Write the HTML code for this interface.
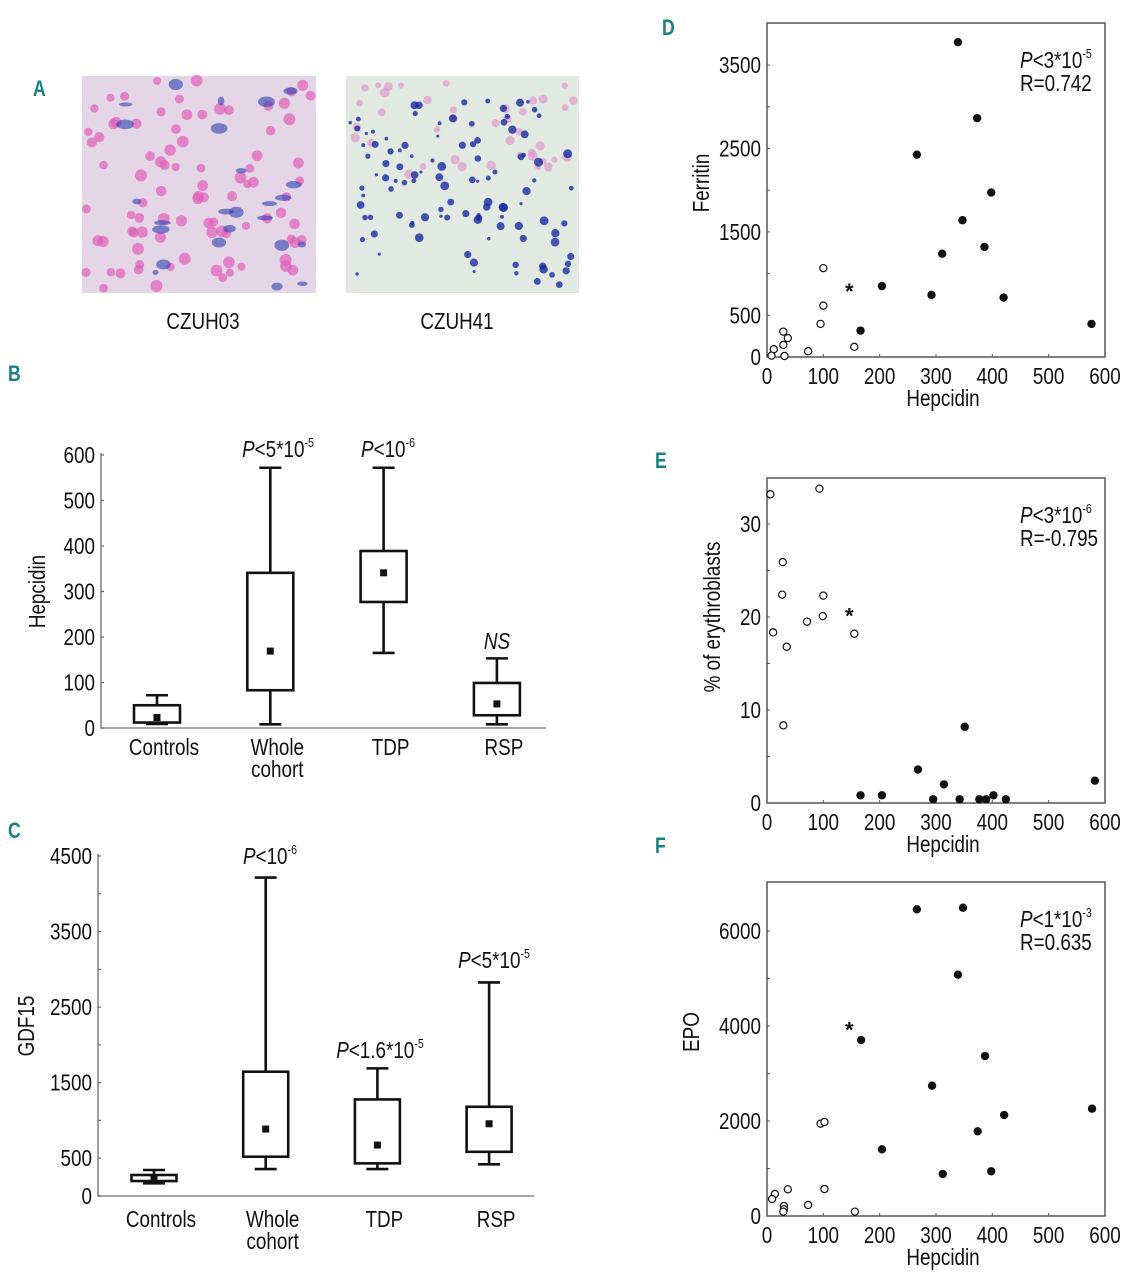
<!DOCTYPE html>
<html><head><meta charset="utf-8"><style>
body{margin:0;background:#fff;}
svg{display:block;font-family:"Liberation Sans Narrow","Liberation Sans",sans-serif;}
.t{font-size:23px;fill:#111;}
.pl{font-family:"Liberation Sans",sans-serif;font-weight:bold;font-size:22px;fill:#1a8080;}
</style></head><body>
<svg id="fig" width="1127" height="1280" viewBox="0 0 1127 1280" xmlns="http://www.w3.org/2000/svg">
<g id="imgs">
  <rect x="82" y="76" width="234" height="217" fill="#e4d6e6"/>
  <rect x="346" y="76" width="233" height="217" fill="#e2e9e2"/>
  <g id="tex"></g>
</g>
<text class="t" x="203" y="329" text-anchor="middle">CZUH03</text>
<text class="t" x="457" y="329" text-anchor="middle">CZUH41</text>
<text class="pl" x="33" y="96" transform="translate(33,0) scale(0.8,1) translate(-33,0)">A</text>
<text class="pl" x="8" y="381" transform="translate(8,0) scale(0.8,1) translate(-8,0)">B</text>
<text class="pl" x="8" y="838" transform="translate(8,0) scale(0.8,1) translate(-8,0)">C</text>
<text class="pl" x="662" y="35" transform="translate(662,0) scale(0.8,1) translate(-662,0)">D</text>
<text class="pl" x="655" y="468" transform="translate(655,0) scale(0.8,1) translate(-655,0)">E</text>
<text class="pl" x="655" y="853" transform="translate(655,0) scale(0.8,1) translate(-655,0)">F</text>
<g id="charts"></g>
</svg>
<script>
// ---- Panel B (Hepcidin box plot) data ----
const bCats = ["Controls","Whole cohort","TDP","RSP"];
const bWhiskLo = [9, 8, 165, 8];
const bBoxLo = [12, 83, 277, 28];
const bMean = [23, 169, 341, 53];
const bBoxHi = [50, 341, 389, 99];
const bWhiskHi = [72, 572, 572, 153];
const bTicks = [0,100,200,300,400,500,600];
// ---- Panel C (GDF15 box plot) data ----
const cCats = ["Controls","Whole cohort","TDP","RSP"];
const cWhiskLo = [168, 357, 357, 419];
const cBoxLo = [198, 520, 432, 585];
const cMean = [220, 886, 674, 956];
const cBoxHi = [278, 1645, 1278, 1181];
const cWhiskHi = [344, 4214, 1689, 2827];
const cTickLabels = [0,500,1500,2500,3500,4500];
const cTicks = [0,500,1000,1500,2000,2500,3000,3500,4000,4500];
// ---- Panel D (Ferritin vs Hepcidin) ----
const dFillX = [339,373,266,398,347,311,386,204,292,420,166,576];
const dFillY = [3775,2864,2426,1972,1640,1239,1320,850,745,713,316,397];
const dOpenX = [100,100,95,29,37,29,12,8,31,73,155];
const dOpenY = [1065,616,397,304,227,146,93,16,12,69,122];
const dStarX = [146]; const dStarY = [850];
// ---- Panel E (% erythroblasts vs Hepcidin) ----
const eFillX = [351,268,314,166,204,295,342,377,389,402,424,582];
const eFillY = [8.2,3.6,2.0,0.83,0.83,0.4,0.4,0.4,0.4,0.83,0.4,2.4];
const eOpenX = [6,93,28,27,100,99,71,11,155,35,29];
const eOpenY = [33.2,33.8,25.9,22.4,22.3,20.1,19.5,18.35,18.2,16.8,8.35];
const eStarX = [146]; const eStarY = [20.7];
// ---- Panel F (EPO vs Hepcidin) ----
const fFillX = [266,348,339,167,387,293,577,421,374,204,312,398];
const fFillY = [6457,6490,5080,3705,3368,2743,2259,2126,1783,1404,884,941];
const fOpenX = [95,102,37,102,14,9,73,30,30,29,156];
const fOpenY = [1944,1979,562,568,463,358,232,210,141,91,91];
const fStarX = [146]; const fStarY = [4035];
const xTicks = [0,100,200,300,400,500,600];

const NS="http://www.w3.org/2000/svg";
const root=document.getElementById('charts');
function mk(tag,attrs,parent,txt){const e=document.createElementNS(NS,tag);for(const k in attrs)e.setAttribute(k,attrs[k]);if(txt!==undefined)e.textContent=txt;(parent||root).appendChild(e);return e;}
function ptext(parent,x,y,anchor,base,exp,name){
  const t=mk('text',{class:'t',x:x,y:y,'text-anchor':anchor},parent);
  
  
  mk('tspan',{'font-style':'italic'},t,'P');
  mk('tspan',{},t,base);
  if(exp){mk('tspan',{'font-size':'13','dy':'-10'},t,exp);}
  return t;
}

// ---------- Box plot ----------
function boxplot(cfg){
  const g=mk('g',{});
  
  
  const y=v=>cfg.y0-(v-0)*(cfg.y0-cfg.yTop)/cfg.yMax;
  const xs=i=>cfg.xc[0]+i*cfg.step;
  const ax=mk('path',{d:`M${cfg.ax},${cfg.yTop-2}V${cfg.y0}H${cfg.axEnd}`,stroke:'#888',fill:'none','stroke-width':1.6},g);
  
  
  cfg.ticks.forEach(v=>{const l=mk('line',{x1:cfg.ax,x2:cfg.ax+3,y1:y(v),y2:y(v),stroke:'#666','stroke-width':1.2},g);
    
    });
  cfg.tickLabels.forEach(v=>{const t=mk('text',{class:'t',x:cfg.ax-6,y:y(v)+8,'text-anchor':'end'},g,String(v));
    
    });
  const yl=mk('text',{class:'t',transform:`translate(${cfg.ylx},${(cfg.y0+cfg.yTop)/2}) rotate(-90)`,'text-anchor':'middle'},g,cfg.ylabel);
  
  
  cfg.cats.forEach((c,i)=>{
    const x=xs(i),w=cfg.bw/2,cw=11;
    const bg=mk('g',{fill:'none',stroke:'#111','stroke-width':2.6},g);
    
    
    mk('path',{d:`M${x},${y(cfg.wl[i])}V${y(cfg.bl[i])}M${x},${y(cfg.bh[i])}V${y(cfg.wh[i])}M${x-cw},${y(cfg.wl[i])}H${x+cw}M${x-cw},${y(cfg.wh[i])}H${x+cw}`},bg);
    mk('rect',{x:x-w,y:y(cfg.bh[i]),width:cfg.bw,height:y(cfg.bl[i])-y(cfg.bh[i])},bg);
    const m=mk('rect',{x:x-3.5,y:y(cfg.mean[i])-3.5,width:7,height:7,fill:'#111'},g);
    
    
    const parts=c.split(' ');
    parts.forEach((p,j)=>{const t=mk('text',{class:'t',x:x+cfg.lblOff,y:cfg.catY+j*22,'text-anchor':'middle'},g,p);
      
      });
  });
  return g;
}
boxplot({name:'hepcidin-boxplot',cats:bCats,wl:bWhiskLo,bl:bBoxLo,mean:bMean,bh:bBoxHi,wh:bWhiskHi,
  ticks:bTicks,tickLabels:bTicks,yMax:600,y0:728,yTop:455,ax:101,axEnd:546,xc:[157],step:113.3,bw:46,
  ylabel:'Hepcidin',ylx:45,catY:755,lblOff:7});
boxplot({name:'gdf15-boxplot',cats:cCats,wl:cWhiskLo,bl:cBoxLo,mean:cMean,bh:cBoxHi,wh:cWhiskHi,
  ticks:cTicks,tickLabels:cTickLabels,yMax:4500,y0:1196,yTop:856,ax:98,axEnd:534,xc:[154],step:111.7,bw:45,
  ylabel:'GDF15',ylx:34,catY:1227,lblOff:7});
ptext(root,278,457,'middle','<5*10','-5','p-value-whole-hepcidin');
ptext(root,388,457,'middle','<10','-6','p-value-tdp-hepcidin');
{const t=mk('text',{class:'t',x:497,y:649,'text-anchor':'middle','font-style':'italic'},root,'NS');
 
 }
ptext(root,270,864,'middle','<10','-6','p-value-whole-gdf15');
ptext(root,380,1058,'middle','<1.6*10','-5','p-value-tdp-gdf15');
ptext(root,494,968,'middle','<5*10','-5','p-value-rsp-gdf15');

// ---------- Scatter ----------
function scatter(cfg){
  const g=mk('g',{});
  
  
  const L=767,R=1105;
  const x=v=>L+v*(R-L)/600;
  const y=v=>cfg.y0-v*cfg.k;
  const fr=mk('rect',{x:L,y:cfg.top,width:R-L,height:cfg.y0-cfg.top,fill:'none',stroke:'#555','stroke-width':1.5},g);
  
  
  xTicks.forEach(v=>{
    const l=mk('line',{x1:x(v),x2:x(v),y1:cfg.y0,y2:cfg.y0-3,stroke:'#555','stroke-width':1},g);
    
    
    const t=mk('text',{class:'t',x:x(v),y:cfg.y0+27,'text-anchor':'middle','font-size':24},g,String(v));
    
    
  });
  cfg.ticks.forEach(v=>{const l=mk('line',{x1:L,x2:L+3,y1:y(v),y2:y(v),stroke:'#555','stroke-width':1},g);
    
    });
  cfg.labels.forEach(v=>{const t=mk('text',{class:'t',x:L-6,y:y(v)+8,'text-anchor':'end','font-size':24},g,String(v));
    
    });
  const xl=mk('text',{class:'t',x:943,y:cfg.y0+49,'text-anchor':'middle','font-size':24},g,'Hepcidin');
  
  
  const yl=mk('text',{class:'t',transform:`translate(${cfg.ylx},${cfg.yly}) rotate(-90)`,'text-anchor':'middle','font-size':24},g,cfg.ylabel);
  
  
  cfg.fx.forEach((v,i)=>{const c=mk('circle',{cx:x(v),cy:y(cfg.fy[i]),r:4.2,fill:'#111'},g);
    
    });
  cfg.ox.forEach((v,i)=>{const c=mk('circle',{cx:x(v),cy:y(cfg.oy[i]),r:3.6,fill:'#fff',stroke:'#111','stroke-width':1.2},g);
    
    });
  cfg.sx.forEach((v,i)=>{const t=mk('text',{x:x(v),y:y(cfg.sy[i])+13,'text-anchor':'middle','font-size':22,'font-weight':'bold',fill:'#111'},g,'*');
    
    });
  ptext(g,1020,cfg.top+45,'start',cfg.pb,cfg.pe,'p-value');
  const r=mk('text',{class:'t',x:1020,y:cfg.top+68},g,cfg.r);
  
  
}
scatter({name:'ferritin-scatter',top:23,y0:357,k:0.0834,ticks:[0,500,1000,1500,2000,2500,3000,3500],labels:[0,500,1500,2500,3500],
  fx:dFillX,fy:dFillY,ox:dOpenX,oy:dOpenY,sx:dStarX,sy:dStarY,ylabel:'Ferritin',ylx:709,yly:183,pb:'<3*10',pe:'-5',r:'R=0.742'});
scatter({name:'erythroblasts-scatter',top:478,y0:803,k:9.3,ticks:[0,5,10,15,20,25,30],labels:[0,10,20,30],
  fx:eFillX,fy:eFillY,ox:eOpenX,oy:eOpenY,sx:eStarX,sy:eStarY,ylabel:'% of erythroblasts',ylx:720,yly:617,pb:'<3*10',pe:'-6',r:'R=-0.795'});
scatter({name:'epo-scatter',top:882,y0:1216,k:0.0475,ticks:[0,1000,2000,3000,4000,5000,6000],labels:[0,2000,4000,6000],
  fx:fFillX,fy:fFillY,ox:fOpenX,oy:fOpenY,sx:fStarX,sy:fStarY,ylabel:'EPO',ylx:699,yly:1032,pb:'<1*10',pe:'-3',r:'R=0.635'});

// ---------- condense text horizontally (narrow face look) ----------
document.querySelectorAll('text.t').forEach(t=>{
  const tr=t.getAttribute('transform');
  if(tr){t.setAttribute('transform',tr+' scale(0.82,1)');}
  else{const x=t.getAttribute('x');t.setAttribute('transform',`translate(${x},0) scale(0.82,1) translate(${-x},0)`);}
});

// ---------- micrograph texture (decorative) ----------
const tex=document.getElementById('tex');
let s=7;function rnd(){s=(s*16807)%2147483647;return s/2147483647;}
for(let i=0;i<90;i++){mk('circle',{cx:86+rnd()*226,cy:80+rnd()*209,r:4+rnd()*2,fill:'#e060b8',opacity:0.7},tex);}
for(let i=0;i<25;i++){mk('ellipse',{cx:86+rnd()*226,cy:80+rnd()*209,rx:3+rnd()*6,ry:2+rnd()*4,fill:'#3040b0',opacity:0.6},tex);}
for(let i=0;i<40;i++){mk('circle',{cx:350+rnd()*225,cy:80+rnd()*100,r:3+rnd()*2,fill:'#e090c8',opacity:0.6},tex);}
for(let i=0;i<110;i++){mk('circle',{cx:350+rnd()*225,cy:100+rnd()*185,r:1.5+rnd()*3,fill:'#1a2aa0',opacity:0.8},tex);}
</script>
</body></html>
